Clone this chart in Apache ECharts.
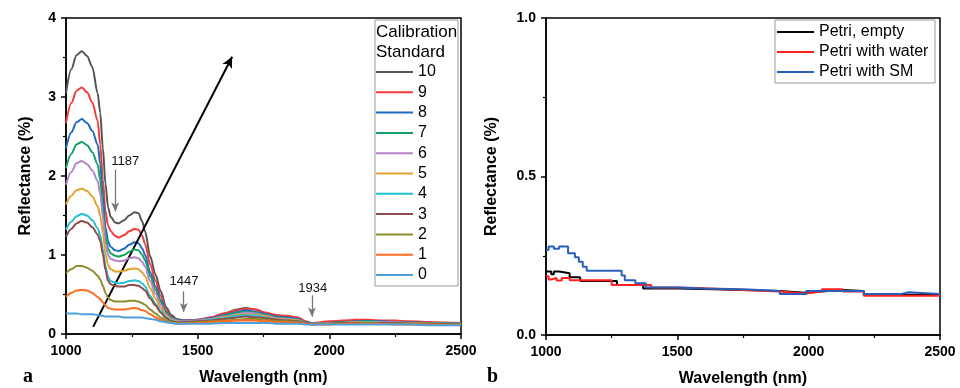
<!DOCTYPE html>
<html><head><meta charset="utf-8">
<script src="https://cdn.jsdelivr.net/npm/echarts@6/dist/echarts.min.js"></script>
<style>html,body{margin:0;padding:0;background:#fff}#c{width:960px;height:388px}</style>
</head><body><div id="c"></div>
<script>
// ---- Panel a data ----
const wl = [1000,1020,1040,1060,1080,1100,1120,1130,1140,1150,1160,1170,1187,1200,1220,1240,1260,1275,1290,1300,1320,1340,1360,1380,1400,1420,1447,
            1500,1550,1600,1650,1680,1720,1760,1800,1840,1880,1910,1934,2000,2050,2100,2150,2200,2250,2300,2400,2500];
const std10 = [3.05,3.35,3.53,3.58,3.52,3.38,3.05,2.80,2.35,1.90,1.60,1.48,1.41,1.40,1.44,1.50,1.54,1.53,1.42,1.30,0.98,0.75,0.54,0.34,0.24,0.19,0.17,
               0.18,0.21,0.26,0.31,0.33,0.31,0.26,0.23,0.22,0.20,0.15,0.13,0.14,0.15,0.16,0.16,0.16,0.16,0.15,0.14,0.13];
const std9 = [2.67,2.92,3.08,3.12,3.06,2.93,2.70,2.40,1.95,1.55,1.37,1.30,1.24,1.22,1.25,1.30,1.33,1.32,1.24,1.14,0.88,0.67,0.48,0.30,0.22,0.18,0.17,
              0.18,0.21,0.26,0.30,0.32,0.31,0.27,0.24,0.23,0.21,0.16,0.14,0.16,0.17,0.18,0.18,0.17,0.17,0.16,0.15,0.14];
const std8 = [2.35,2.55,2.68,2.72,2.67,2.57,2.40,2.15,1.75,1.35,1.17,1.10,1.06,1.05,1.08,1.13,1.16,1.15,1.08,1.00,0.78,0.60,0.43,0.28,0.21,0.18,0.17,
              0.17,0.20,0.24,0.28,0.30,0.28,0.25,0.22,0.21,0.19,0.15,0.13,0.14,0.15,0.16,0.16,0.16,0.15,0.15,0.14,0.13];
const std7 = [2.10,2.28,2.40,2.43,2.39,2.30,2.15,1.95,1.60,1.25,1.08,1.02,0.99,0.98,1.00,1.04,1.07,1.06,1.00,0.93,0.73,0.56,0.40,0.27,0.20,0.17,0.16,
              0.17,0.19,0.23,0.27,0.28,0.27,0.24,0.21,0.20,0.18,0.15,0.13,0.14,0.15,0.15,0.16,0.15,0.15,0.14,0.14,0.13];
const std6 = [1.89,2.05,2.16,2.19,2.15,2.07,1.94,1.78,1.48,1.15,1.00,0.95,0.93,0.92,0.93,0.96,0.97,0.96,0.91,0.85,0.67,0.51,0.37,0.25,0.19,0.17,0.16,
              0.17,0.19,0.22,0.25,0.27,0.26,0.23,0.20,0.19,0.18,0.14,0.13,0.14,0.14,0.15,0.15,0.15,0.15,0.14,0.13,0.13];
const std5 = [1.64,1.75,1.82,1.84,1.81,1.74,1.62,1.50,1.28,1.02,0.87,0.82,0.79,0.79,0.80,0.82,0.83,0.82,0.78,0.73,0.58,0.45,0.33,0.23,0.18,0.16,0.15,
              0.16,0.18,0.21,0.24,0.25,0.24,0.22,0.19,0.18,0.17,0.14,0.13,0.13,0.14,0.15,0.15,0.14,0.14,0.14,0.13,0.12];
const std4 = [1.32,1.42,1.49,1.52,1.50,1.44,1.34,1.25,1.07,0.86,0.72,0.67,0.65,0.64,0.65,0.67,0.68,0.67,0.64,0.60,0.48,0.38,0.29,0.21,0.17,0.15,0.15,
              0.16,0.18,0.20,0.23,0.24,0.23,0.21,0.18,0.17,0.16,0.14,0.13,0.13,0.14,0.14,0.15,0.14,0.14,0.13,0.13,0.12];
const std3 = [1.23,1.33,1.40,1.43,1.41,1.35,1.26,1.18,1.01,0.81,0.67,0.63,0.61,0.60,0.60,0.62,0.62,0.61,0.58,0.55,0.45,0.36,0.27,0.20,0.16,0.15,0.15,
              0.16,0.17,0.19,0.21,0.22,0.21,0.20,0.18,0.17,0.16,0.14,0.13,0.13,0.14,0.14,0.14,0.14,0.14,0.13,0.13,0.12];
const std2 = [0.77,0.82,0.86,0.86,0.84,0.80,0.74,0.69,0.61,0.52,0.46,0.43,0.41,0.41,0.41,0.42,0.42,0.41,0.39,0.37,0.31,0.26,0.21,0.17,0.15,0.14,0.14,
              0.15,0.16,0.17,0.18,0.19,0.19,0.18,0.16,0.16,0.15,0.13,0.12,0.13,0.13,0.13,0.14,0.13,0.13,0.13,0.12,0.12];
const std1 = [0.47,0.52,0.55,0.56,0.55,0.52,0.47,0.44,0.40,0.36,0.33,0.32,0.31,0.31,0.31,0.32,0.33,0.32,0.30,0.29,0.25,0.21,0.18,0.15,0.14,0.13,0.13,
              0.14,0.15,0.16,0.17,0.17,0.17,0.16,0.15,0.15,0.14,0.13,0.12,0.12,0.13,0.13,0.13,0.13,0.12,0.12,0.12,0.11];
const std0 = [0.26,0.26,0.26,0.25,0.25,0.25,0.24,0.23,0.23,0.22,0.22,0.22,0.22,0.22,0.21,0.21,0.21,0.21,0.21,0.20,0.19,0.18,0.16,0.15,0.14,0.13,0.13,
              0.13,0.13,0.14,0.14,0.14,0.14,0.14,0.13,0.13,0.13,0.12,0.12,0.12,0.12,0.12,0.12,0.12,0.12,0.12,0.11,0.11];
const stdNames = ['10','9','8','7','6','5','4','3','2','1','0'];
const stdData = [std10,std9,std8,std7,std6,std5,std4,std3,std2,std1,std0];
const stdColors = ['#555555','#f53a3a','#1e6cc0','#14a064','#b583c8','#e2a230','#22c3cf','#8e4b4b','#8d8d2c','#ff6b1f','#4ea0dc'];

// annotation peaks (wavelength, text position value, arrow start value, arrow tip value)
const peakLabels = ['1187','1447','1934'];
const peakWl = [1187,1447,1934];
const peakTextWl = [1225,1448,1937];
const peakTextY = [2.19,0.67,0.58];
const peakArrowFrom = [2.08,0.54,0.49];
const peakArrowTo = [1.55,0.28,0.22];
const trendArrow = [[1103,0.09],[1631,3.51]];

// ---- Panel b data (step values: [wavelength, reflectance]) ----
const petriEmptyX = [1000,1020,1030,1050,1090,1130,1270,1370,1500,1600,1750,1890,1985,2050,2130,2210,2500];
const petriEmptyY = [0.200,0.192,0.200,0.195,0.182,0.170,0.158,0.147,0.145,0.142,0.139,0.133,0.137,0.142,0.139,0.127,0.127];
const petriWaterX = [1000,1010,1020,1040,1060,1090,1250,1400,1500,1580,1750,1890,1990,2050,2130,2210,2500];
const petriWaterY = [0.185,0.175,0.180,0.172,0.180,0.173,0.158,0.150,0.148,0.142,0.137,0.131,0.137,0.144,0.137,0.124,0.124];
const petriSMX = [1000,1010,1030,1050,1084,1110,1125,1140,1155,1288,1300,1340,1380,1500,1600,1750,1890,1990,2210,2350,2380,2500];
const petriSMY = [0.268,0.279,0.272,0.279,0.258,0.245,0.231,0.215,0.203,0.188,0.173,0.163,0.150,0.147,0.144,0.139,0.129,0.139,0.129,0.135,0.129,0.129];

const chart = echarts.init(document.getElementById('c'), null, {renderer:'canvas'});
const font = 'Liberation Sans, Arial, sans-serif';
const axisCommon = (min,max,interval,minorSplit,fmt) => ({
  type:'value', min, max, interval,
  axisLine:{show:true,onZero:false,lineStyle:{color:'#000',width:1.5}},
  axisTick:{show:true,inside:false,length:5,lineStyle:{color:'#000',width:1.5}},
  minorTick:{show:true,splitNumber:minorSplit,length:3,lineStyle:{color:'#000',width:1.2}},
  splitLine:{show:false},
  axisLabel:{color:'#000',fontFamily:font,fontWeight:'bold',fontSize:14,margin:10,formatter:fmt}
});

const seriesA = stdNames.map((n,i)=>({
  name:n, type:'line', xAxisIndex:0, yAxisIndex:0,
  data: wl.map((x,j)=>[x, stdData[i][j]]),
  symbol:'none', smooth:0.3, smoothMonotone:'x',
  lineStyle:{color:stdColors[i],width:2}, itemStyle:{color:stdColors[i]},
  z: 2 + i, animation:false
}));
// annotations on panel a
const arrowLines = [
  [{coord:trendArrow[0],symbol:'none',symbolSize:0,lineStyle:{color:'#000',width:2}},
   {coord:trendArrow[1],symbol:'arrow',symbolSize:[8,11],itemStyle:{color:'#000'}}]
].concat(peakWl.map((w,i)=>[
  {coord:[w,peakArrowFrom[i]],symbol:'none',symbolSize:0,lineStyle:{color:'#777',width:1.3}},
  {coord:[w,peakArrowTo[i]],symbol:'arrow',symbolSize:[6,9],itemStyle:{color:'#222'}}
]));
seriesA[0].markLine = {
  silent:true, animation:false, label:{show:false}, emphasis:{disabled:true},
  lineStyle:{type:'solid',color:'#000'}, itemStyle:{color:'#000'},
  data: arrowLines
};
seriesA[0].markPoint = {
  silent:true, animation:false, symbol:'rect', symbolSize:1, itemStyle:{color:'rgba(0,0,0,0)'},
  data: peakLabels.map((t,i)=>({coord:[peakTextWl[i],peakTextY[i]],
     label:{show:true,position:'inside',formatter:t,color:'#111',fontSize:13,fontFamily:font}}))
};

const bNames = ['Petri, empty','Petri with water','Petri with SM'];
const bX = [petriEmptyX,petriWaterX,petriSMX];
const bY = [petriEmptyY,petriWaterY,petriSMY];
const bColors = ['#000000','#ff2020','#2a5fb8'];
const seriesB = bNames.map((n,i)=>({
  name:n, type:'line', xAxisIndex:1, yAxisIndex:1,
  data: bX[i].map((x,j)=>[x,bY[i][j]]), step:'end',
  symbol:'none', lineStyle:{color:bColors[i],width:2}, itemStyle:{color:bColors[i]},
  z: 2 + i, animation:false
}));

const nameStyle = {color:'#000',fontFamily:font,fontWeight:'bold',fontSize:16};
chart.setOption({
  animation:false,
  backgroundColor:'#fff',
  grid:[
    {left:66,right:499,top:18,bottom:54,show:true,borderColor:'#000',borderWidth:1.5,backgroundColor:'transparent',containLabel:false,outerBoundsMode:'none'},
    {left:546,right:20,top:18,bottom:53,show:true,borderColor:'#000',borderWidth:1.5,backgroundColor:'transparent',containLabel:false,outerBoundsMode:'none'}
  ],
  xAxis:[
    Object.assign(axisCommon(1000,2500,500,2,v=>String(v)), {gridIndex:0, name:'Wavelength (nm)', nameLocation:'middle', nameGap:36, nameTextStyle:nameStyle}),
    Object.assign(axisCommon(1000,2500,500,2,v=>String(v)), {gridIndex:1, name:'Wavelength (nm)', nameLocation:'middle', nameGap:36, nameTextStyle:nameStyle})
  ],
  yAxis:[
    Object.assign(axisCommon(0,4,1,2,v=>String(v)), {gridIndex:0, name:'Reflectance (%)', nameLocation:'middle', nameGap:32, nameTextStyle:nameStyle}),
    Object.assign(axisCommon(0,1,0.5,2,v=>v.toFixed(1)), {gridIndex:1, name:'Reflectance (%)', nameLocation:'middle', nameGap:46, nameTextStyle:nameStyle})
  ],
  legend:[
    {data:stdNames, orient:'vertical', left:376, top:64, icon:'rect', itemWidth:37, itemHeight:2, itemGap:4.3,
     textStyle:{color:'#000',fontFamily:font,fontSize:16}, padding:0, selectedMode:false},
    {data:bNames, orient:'vertical', left:777, top:24, icon:'rect', itemWidth:37, itemHeight:2, itemGap:4,
     textStyle:{color:'#000',fontFamily:font,fontSize:16}, padding:0, selectedMode:false}
  ],
  graphic:[
    {type:'rect', shape:{x:375,y:20,width:83,height:266}, style:{fill:'#fff',stroke:'#999',lineWidth:1}, z:0, silent:true},
    {type:'text', left:376, top:22, style:{text:'Calibration\nStandard',fill:'#000',font:'17px '+font,lineHeight:20}, z:100},
    {type:'rect', shape:{x:775,y:20,width:160,height:63}, style:{fill:'#fff',stroke:'#999',lineWidth:1}, z:0, silent:true},
    {type:'text', left:23, top:367, style:{text:'a',fill:'#000',font:'bold 20px Liberation Serif, serif'}},
    {type:'text', left:487, top:367, style:{text:'b',fill:'#000',font:'bold 20px Liberation Serif, serif'}}
  ],
  series: seriesA.concat(seriesB)
});
</script>
</body></html>
